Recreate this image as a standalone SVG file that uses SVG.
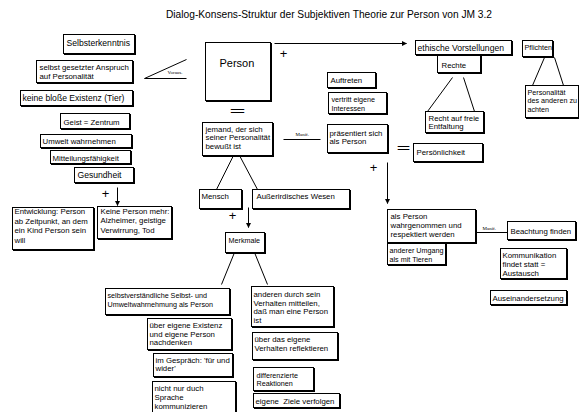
<svg xmlns="http://www.w3.org/2000/svg" width="579" height="412" viewBox="0 0 579 412">
<style>
.bx{fill:#fff;stroke:#000;stroke-width:1}
.sh{fill:#000;stroke:#000;stroke-width:1}
text{font-family:"Liberation Sans",Arial,sans-serif;font-size:7.8px;fill:#000}
.big{font-size:8.6px}
.sm{font-size:7.2px}
.lbl{font-family:"Liberation Serif","Times New Roman",serif;font-size:5px}
.sym{font-size:13px}
.ln{stroke:#000;stroke-width:1;fill:none}
</style>
<defs>
<marker id="arr" viewBox="0 0 10 10" refX="9" refY="5" markerWidth="5" markerHeight="5" orient="auto" markerUnits="userSpaceOnUse">
<path d="M0,0 L10,5 L0,10 z" fill="#000"/>
</marker>
</defs>
<rect width="579" height="412" fill="#fff"/>
<text id="title" x="166" y="18" style="font-size:10.2px">Dialog-Konsens-Struktur der Subjektiven Theorie zur Person von JM 3.2</text>

<g id="connectors" transform="translate(0.5,0.5)">
<line class="ln" x1="144" y1="78" x2="186" y2="59"/>
<line class="ln" x1="144" y1="78" x2="186" y2="78"/>
<text class="lbl" x="167" y="73">Voraus.</text>
<line class="ln" x1="274" y1="43" x2="406" y2="43" marker-end="url(#arr)"/>
<text class="sym" x="283" y="57" text-anchor="middle">+</text>
<text class="sym" x="229" y="114" textLength="16" lengthAdjust="spacingAndGlyphs">=</text>
<line class="ln" x1="283" y1="139" x2="320" y2="139"/>
<text class="lbl" x="295" y="135">Manif.</text>
<text class="sym" x="396" y="151" textLength="14" lengthAdjust="spacingAndGlyphs">=</text>
<text class="sym" x="373" y="171" text-anchor="middle">+</text>
<line class="ln" x1="387" y1="162" x2="387" y2="203" marker-end="url(#arr)"/>
<line class="ln" x1="475" y1="232" x2="507" y2="232"/>
<text class="lbl" x="482" y="229">Manif.</text>
<line class="ln" x1="452" y1="77" x2="427" y2="111"/>
<line class="ln" x1="463" y1="77" x2="474" y2="111"/>
<line class="ln" x1="544" y1="57" x2="532" y2="85"/>
<line class="ln" x1="554" y1="57" x2="563" y2="85"/>
<line class="ln" x1="233" y1="155" x2="216" y2="189"/>
<line class="ln" x1="239" y1="155" x2="257" y2="189"/>
<text class="sym" x="232" y="219" text-anchor="middle">+</text>
<line class="ln" x1="248" y1="207" x2="248" y2="227" marker-end="url(#arr)"/>
<line class="ln" x1="234" y1="252" x2="221" y2="284"/>
<line class="ln" x1="254" y1="252" x2="267" y2="284"/>
<text class="sym" x="105" y="197" text-anchor="middle">+</text>
<line class="ln" x1="117" y1="187" x2="117" y2="205" marker-end="url(#arr)"/>
</g>

<g transform="translate(0.5,0.5)">
<g id="n-selbsterkenntnis"><rect class="sh" x="64" y="35" width="71" height="19"/><rect class="bx" x="63" y="34" width="71" height="19"/><text class="big" x="66" y="45">Selbsterkenntnis</text></g>
<g id="n-anspruch"><rect class="sh" x="37" y="61" width="96" height="22"/><rect class="bx" x="36" y="60" width="96" height="22"/><text x="39" y="69"><tspan x="39">selbst gesetzter Anspruch</tspan><tspan x="39" dy="9">auf Personalität</tspan></text></g>
<g id="n-existenz"><rect class="sh" x="21" y="91" width="112" height="15"/><rect class="bx" x="20" y="90" width="112" height="15"/><text class="big" x="22" y="100.5">keine bloße Existenz (Tier)</text></g>
<g id="n-geist"><rect class="sh" x="61" y="114" width="69" height="15"/><rect class="bx" x="60" y="113" width="69" height="15"/><text x="63" y="124">Geist = Zentrum</text></g>
<g id="n-umwelt"><rect class="sh" x="41" y="135" width="91" height="13"/><rect class="bx" x="40" y="134" width="91" height="13"/><text x="42" y="143.5">Umwelt wahrnehmen</text></g>
<g id="n-mitteilung"><rect class="sh" x="51" y="151" width="80" height="13"/><rect class="bx" x="50" y="150" width="80" height="13"/><text x="52" y="160">Mitteilungsfähigkeit</text></g>
<g id="n-gesundheit"><rect class="sh" x="75" y="168" width="59" height="15"/><rect class="bx" x="74" y="167" width="59" height="15"/><text class="big" x="77" y="177">Gesundheit</text></g>
<g id="n-entwicklung"><rect class="sh" x="13" y="208" width="81" height="42"/><rect class="bx" x="12" y="207" width="81" height="42"/><text x="14" y="213.5"><tspan x="14">Entwicklung: Person</tspan><tspan x="14" dy="9.5">ab Zeitpunkt, an dem</tspan><tspan x="14" dy="9.5">ein Kind Person sein</tspan><tspan x="14" dy="9.5">will</tspan></text></g>
<g id="n-keineperson"><rect class="sh" x="98" y="207" width="74" height="32"/><rect class="bx" x="97" y="206" width="74" height="32"/><text x="100" y="213"><tspan x="100">Keine Person mehr:</tspan><tspan x="100" dy="9.5">Alzheimer, geistige</tspan><tspan x="100" dy="9.5">Verwirrung, Tod</tspan></text></g>
<g id="n-person"><rect class="sh" x="206" y="43" width="65" height="58"/><rect class="bx" x="205" y="42" width="65" height="58"/><text x="219" y="66" style="font-size:11px">Person</text></g>
<g id="n-jemand"><rect class="sh" x="203" y="123" width="70" height="33"/><rect class="bx" x="202" y="122" width="70" height="33"/><text x="205" y="131"><tspan x="205">jemand, der sich</tspan><tspan x="205" dy="8.5">seiner Personalität</tspan><tspan x="205" dy="8.5">bewußt ist</tspan></text></g>
<g id="n-mensch"><rect class="sh" x="200" y="190" width="42" height="19"/><rect class="bx" x="199" y="189" width="42" height="19"/><text x="201" y="198">Mensch</text></g>
<g id="n-ausserirdisch"><rect class="sh" x="253" y="190" width="97" height="19"/><rect class="bx" x="252" y="189" width="97" height="19"/><text x="256" y="198">Außerirdisches Wesen</text></g>
<g id="n-merkmale"><rect class="sh" x="226" y="233" width="39" height="20"/><rect class="bx" x="225" y="232" width="39" height="20"/><text class="sm" x="228" y="242">Merkmale</text></g>
<g id="n-selbstverst"><rect class="sh" x="106" y="289" width="124" height="26"/><rect class="bx" x="105" y="288" width="124" height="26"/><text class="sm" x="107" y="297"><tspan x="107">selbstverständliche Selbst- und</tspan><tspan x="107" dy="9">Umweltwahrnehmung als Person</tspan></text></g>
<g id="n-existenz2"><rect class="sh" x="148" y="319" width="84" height="31"/><rect class="bx" x="147" y="318" width="84" height="31"/><text x="149" y="327.5"><tspan x="149">über eigene Existenz</tspan><tspan x="149" dy="8.5">und eigene Person</tspan><tspan x="149" dy="8.5">nachdenken</tspan></text></g>
<g id="n-gespraech"><rect class="sh" x="154" y="354" width="79" height="23"/><rect class="bx" x="153" y="353" width="79" height="23"/><text x="155" y="362"><tspan x="155">im Gespräch: 'für und</tspan><tspan x="155" dy="8.5">wider'</tspan></text></g>
<g id="n-sprache"><rect class="sh" x="153" y="382" width="83" height="36"/><rect class="bx" x="152" y="381" width="83" height="36"/><text x="154" y="390"><tspan x="154">nicht nur duch</tspan><tspan x="154" dy="9">Sprache</tspan><tspan x="154" dy="9">kommunizieren</tspan></text></g>
<g id="n-verhalten"><rect class="sh" x="252" y="287" width="82" height="40"/><rect class="bx" x="251" y="286" width="82" height="40"/><text x="253" y="296.5"><tspan x="253">anderen durch sein</tspan><tspan x="253" dy="8.5">Verhalten mitteilen,</tspan><tspan x="253" dy="8.5">daß man eine Person</tspan><tspan x="253" dy="8.5">ist</tspan></text></g>
<g id="n-reflektieren"><rect class="sh" x="253" y="333" width="85" height="27"/><rect class="bx" x="252" y="332" width="85" height="27"/><text x="254" y="341.5"><tspan x="254">über das eigene</tspan><tspan x="254" dy="8.5">Verhalten reflektieren</tspan></text></g>
<g id="n-reaktionen"><rect class="sh" x="254" y="368" width="60" height="23"/><rect class="bx" x="253" y="367" width="60" height="23"/><text class="sm" x="256" y="377"><tspan x="256">differenzierte</tspan><tspan x="256" dy="8">Reaktionen</tspan></text></g>
<g id="n-ziele"><rect class="sh" x="254" y="394" width="86" height="14"/><rect class="bx" x="253" y="393" width="86" height="14"/><text x="255" y="403" style="white-space:pre">eigene  Ziele verfolgen</text></g>
<g id="n-auftreten"><rect class="sh" x="328" y="73" width="48" height="15"/><rect class="bx" x="327" y="72" width="48" height="15"/><text x="330" y="82">Auftreten</text></g>
<g id="n-interessen"><rect class="sh" x="329" y="93" width="58" height="21"/><rect class="bx" x="328" y="92" width="58" height="21"/><text class="sm" x="331" y="101.5"><tspan x="331">vertritt eigene</tspan><tspan x="331" dy="8.5">Interessen</tspan></text></g>
<g id="n-praesentiert"><rect class="sh" x="328" y="125" width="60" height="28"/><rect class="bx" x="327" y="124" width="60" height="28"/><text x="329" y="135"><tspan x="329">präsentiert sich</tspan><tspan x="329" dy="8.5">als Person</tspan></text></g>
<g id="n-ethisch"><rect class="sh" x="416" y="41" width="96" height="14"/><rect class="bx" x="415" y="40" width="96" height="14"/><text class="big" x="417" y="50">ethische Vorstellungen</text></g>
<g id="n-rechte"><rect class="sh" x="438" y="56" width="43" height="17"/><rect class="bx" x="437" y="55" width="43" height="17"/><text x="441" y="67">Rechte</text></g>
<g id="n-entfaltung"><rect class="sh" x="426" y="112" width="58" height="21"/><rect class="bx" x="425" y="111" width="58" height="21"/><text x="428" y="120"><tspan x="428">Recht auf freie</tspan><tspan x="428" dy="8.5">Entfaltung</tspan></text></g>
<g id="n-pflichten"><rect class="sh" x="523" y="41" width="30" height="16"/><rect class="bx" x="522" y="40" width="30" height="16"/><text class="sm" x="524" y="49">Pflichten</text></g>
<g id="n-achten"><rect class="sh" x="526" y="86" width="53" height="32"/><rect class="bx" x="525" y="85" width="53" height="32"/><text class="sm" x="527" y="94"><tspan x="527">Personalität</tspan><tspan x="527" dy="8.5">des anderen zu</tspan><tspan x="527" dy="8.5">achten</tspan></text></g>
<g id="n-persoenlichkeit"><rect class="sh" x="414" y="144" width="69" height="18"/><rect class="bx" x="413" y="143" width="69" height="18"/><text x="416" y="154">Persönlichkeit</text></g>
<g id="n-wahrgenommen"><rect class="sh" x="388" y="210" width="88" height="33"/><rect class="bx" x="387" y="209" width="88" height="33"/><text x="390" y="218"><tspan x="390">als Person</tspan><tspan x="390" dy="9">wahrgenommen und</tspan><tspan x="390" dy="9">respektiert werden</tspan></text></g>
<g id="n-umgang"><rect class="sh" x="388" y="244" width="58" height="21"/><rect class="bx" x="387" y="243" width="58" height="21"/><text class="sm" x="389" y="252"><tspan x="389">anderer Umgang</tspan><tspan x="389" dy="9">als mit Tieren</tspan></text></g>
<g id="n-beachtung"><rect class="sh" x="508" y="222" width="68" height="18"/><rect class="bx" x="507" y="221" width="68" height="18"/><text x="510" y="233">Beachtung finden</text></g>
<g id="n-kommunikation"><rect class="sh" x="501" y="249" width="66" height="30"/><rect class="bx" x="500" y="248" width="66" height="30"/><text x="502" y="257"><tspan x="502"> Kommunikation</tspan><tspan x="502" dy="9">findet statt =</tspan><tspan x="502" dy="9">Austausch</tspan></text></g>
<g id="n-auseinander"><rect class="sh" x="491" y="291" width="76" height="14"/><rect class="bx" x="490" y="290" width="76" height="14"/><text x="492" y="300">Auseinandersetzung</text></g>
</g>
</svg>
